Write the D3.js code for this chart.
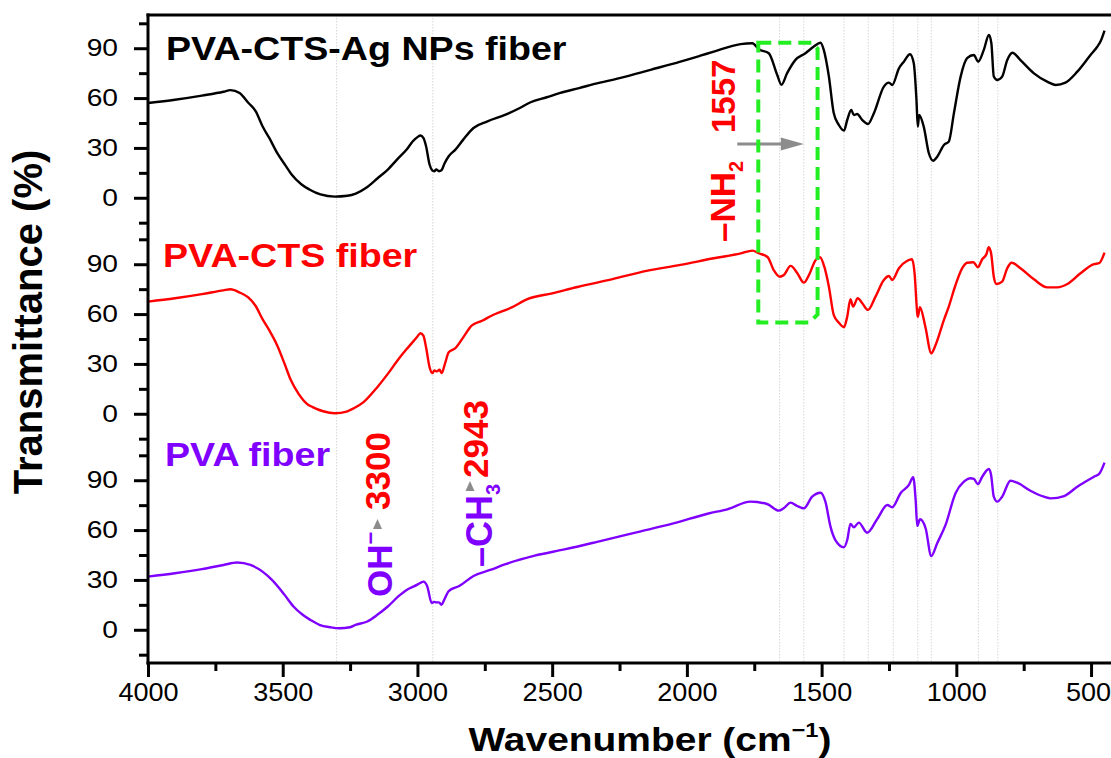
<!DOCTYPE html>
<html>
<head>
<meta charset="utf-8">
<script src="https://cdn.jsdelivr.net/npm/d3@7"></script>
<style>
  body { margin: 0; background: #fff; }
  svg text { font-family: "Liberation Sans", Arial, sans-serif; }
</style>
</head>
<body>
<div id="chart"></div>
<script>
// ---- data (wavenumber cm-1, transmittance %) ----
const agFiber = [
  [4000,57],[3900,59],[3800,61.5],[3720,63.8],[3694,64.8],[3660,63],[3627,57],[3600,52],[3575,43],[3550,36],
  [3519,26.5],[3490,19.5],[3467,14],[3430,8],[3401,5],[3360,2],[3307,0.7],[3260,1.2],[3229,2.5],[3190,6],
  [3149,11.6],[3110,17],[3070,24],[3040,29],[3017,34],[3000,36.5],[2989,37.5],[2978,36],[2968,31],[2955,20],
  [2945,16.5],[2938,16],[2930,17],[2920,16],[2911,16.5],[2900,20.5],[2884,25],[2859,29],[2830,35],[2792,42],
  [2740,46],[2673,50],[2620,54],[2580,57.5],[2520,60.5],[2473,63],[2400,66],[2343,68.5],[2250,72],[2135,77],
  [2024,81.9],[1950,85.5],[1900,88],[1801,92.5],[1757,93],[1733,89.4],[1696,87],[1665,74],[1649,68],[1628,75],
  [1597,83],[1560,87],[1529,91],[1504,93.3],[1492,89],[1473,73],[1455,51],[1436,43.8],[1417,40.4],[1405,46.8],
  [1390,52.8],[1380,49.8],[1368,50.4],[1349,46.8],[1328,44.4],[1306,50.9],[1269,66.9],[1250,69.3],[1238,67.9],
  [1213,77.9],[1195,81.9],[1172,86.4],[1158,81],[1148,59],[1143,42.8],[1138,49.8],[1121,42.8],[1102,26.8],
  [1086,22.3],[1071,24.7],[1046,31.8],[1028,33.8],[1009,50.9],[984,72.9],[960,84],[935,85.9],[919,81.9],
  [898,89],[879,98],[870,93],[861,73],[848,70.9],[830,72.9],[811,82.9],[792,87.3],[762,82.9],[712,74.9],
  [663,69.9],[632,67.9],[595,69.3],[551,75.9],[502,85.9],[477,90.9],[465,94],[450,100.6]
];
const ctsFiber = [
  [4000,67.5],[3900,69.5],[3800,72],[3720,74.3],[3694,74.9],[3660,73],[3628,70],[3601,65],[3575,57],[3549,50],
  [3520,41],[3493,30],[3470,20.3],[3441,12],[3410,6],[3389,4],[3350,1.5],[3307,0.3],[3260,1.5],[3236,3.3],
  [3200,7],[3149,16],[3110,24],[3070,33],[3040,39],[3018,43],[3000,46.5],[2989,48.5],[2978,47],[2968,40],
  [2955,28],[2945,24.5],[2937,26],[2928,25.5],[2918,26.5],[2910,24.5],[2898,30],[2884,37],[2859,39.5],[2830,46],
  [2799,53],[2760,56],[2725,59],[2650,64],[2592,69],[2500,72.5],[2406,76.3],[2276,81],[2150,86],[2024,89.6],
  [1900,93.6],[1800,96.5],[1757,98.2],[1733,96.6],[1700,94.2],[1678,86.5],[1656,82.5],[1640,83.5],[1615,89],
  [1590,84.6],[1566,78.9],[1547,83.5],[1522,92.6],[1506,94.2],[1490,88.5],[1473,76.5],[1455,59.5],[1436,54.8],
  [1417,52.1],[1405,58.4],[1393,68.9],[1383,64.5],[1366,69.5],[1349,66.5],[1328,62.5],[1300,70.5],[1269,80.5],
  [1250,82.9],[1238,80.5],[1213,87.6],[1182,92.1],[1164,93],[1155,84.6],[1145,60.5],[1143,58.4],[1135,64.1],
  [1115,52.4],[1093,36.4],[1077,41.4],[1046,56.5],[1028,64.5],[1003,77.5],[978,87.6],[960,90.9],[937,91.2],
  [920,88.2],[904,93],[888,96.2],[880,100.2],[871,96.6],[861,82.5],[851,78.1],[830,79.5],[811,87.6],[795,90.9],
  [762,87.6],[712,80.9],[663,76.1],[625,76.1],[588,78.1],[539,84.6],[489,90],[470,90.6],[450,97]
];
const pvaFiber = [
  [4000,32],[3900,34],[3800,36.5],[3720,39],[3669,40.5],[3620,39],[3575,35],[3540,30],[3493,21],[3460,14],
  [3426,9],[3397,5.9],[3364,3],[3323,1.5],[3290,0.9],[3250,1.5],[3230,2.9],[3186,5],[3149,9],[3110,14],
  [3070,20.2],[3040,24],[3011,26.3],[2985,28.5],[2978,29],[2964,26.3],[2947,16.1],[2938,16.8],[2931,16.5],
  [2920,16.5],[2911,15.1],[2898,19],[2884,23.3],[2845,26.3],[2792,32.4],[2730,36],[2673,39.5],[2565,44.6],
  [2450,48.5],[2314,53.7],[2183,58.8],[2050,64],[1920,70],[1850,72.5],[1764,77.1],[1702,75.7],[1659,71.7],
  [1641,73.1],[1615,76.5],[1591,74.5],[1566,73.1],[1535,80.1],[1504,82.5],[1486,77.1],[1467,62.1],[1449,54],
  [1417,49.7],[1405,54],[1393,63.7],[1380,61.7],[1362,64.5],[1331,58.4],[1294,66.5],[1256,75.1],[1238,73.7],
  [1207,82.2],[1176,87.2],[1160,91.8],[1151,78.1],[1145,62.5],[1135,66.5],[1114,61.1],[1093,44.4],[1071,52.1],
  [1040,63.1],[1003,82.2],[972,89.1],[947,91.2],[935,90.8],[920,87.6],[904,92.1],[879,96.8],[871,93.2],
  [861,80.1],[848,77.1],[830,80.1],[799,89.7],[774,88.5],[725,83.7],[675,80.1],[650,79.1],[600,80.5],
  [551,86.1],[489,92.1],[470,93.8],[450,100.6]
];
const seriesNames = ["PVA-CTS-Ag NPs fiber", "PVA-CTS fiber", "PVA fiber"];
const seriesColors = ["#000000", "#ff0000", "#7f00ff"];
const xMajor = [4000, 3500, 3000, 2500, 2000, 1500, 1000, 500];
const xMinor = [3750, 3250, 2750, 2250, 1750, 1250, 750];
const yMajor = [0, 30, 60, 90];
const yMinor = [-15, 15, 45, 75, 105];
const guideLines = [3300, 2943, 1656, 1566, 1417, 1327, 1234, 1143, 1093, 918, 846];

// ---- layout ----
const W = 1111, H = 758;
const x0 = 148, top0 = 15, panelH = 216;
const bottomY = top0 + 3 * panelH;

const svg = d3.select("#chart").append("svg")
    .attr("width", W)
    .attr("height", H);

const x = d3.scaleLinear().domain([4000, 400]).range([x0, 1118]);
const yScales = [0, 1, 2].map(i => d3.scaleLinear()
    .domain([-20, 110])
    .range([top0 + (i + 1) * panelH, top0 + i * panelH]));

// faint guide lines at the band positions
svg.append("g").selectAll("line")
    .data(guideLines)
    .join("line")
    .attr("x1", d => x(d)).attr("x2", d => x(d))
    .attr("y1", top0).attr("y2", bottomY)
    .attr("stroke", "#d6d6d6")
    .attr("stroke-width", 1)
    .attr("stroke-dasharray", "1.5,1.5");

// spectra
[agFiber, ctsFiber, pvaFiber].forEach((data, i) => {
    const line = d3.line()
        .x(d => x(d[0]))
        .y(d => yScales[i](d[1]))
        .curve(d3.curveMonotoneX);
    svg.append("path")
        .datum(data)
        .attr("fill", "none")
        .attr("stroke", seriesColors[i])
        .attr("stroke-width", 2.4)
        .attr("stroke-linejoin", "round")
        .attr("d", line);
});

// y axes, one per panel
yScales.forEach(y => {
    const gMaj = svg.append("g").attr("transform", `translate(${x0},0)`)
        .call(d3.axisLeft(y).tickValues(yMajor).tickSize(14));
    gMaj.select(".domain").remove();
    gMaj.selectAll(".tick line").attr("stroke", "#000").attr("stroke-width", 3);
    gMaj.selectAll(".tick text")
        .attr("font-size", 23.5)
        .attr("fill", "#000")
        .attr("x", -30 / 1.2)
        .attr("transform", "scale(1.2,1)");

    const gMin = svg.append("g").attr("transform", `translate(${x0},0)`)
        .call(d3.axisLeft(y).tickValues(yMinor).tickSize(9).tickFormat(""));
    gMin.select(".domain").remove();
    gMin.selectAll(".tick line").attr("stroke", "#000").attr("stroke-width", 3);
});

// x axis
const gx = svg.append("g").attr("transform", `translate(0,${bottomY})`)
    .call(d3.axisBottom(x).tickValues(xMajor).tickSize(14).tickPadding(6).tickFormat(d3.format("d")));
gx.select(".domain").remove();
gx.selectAll(".tick line").attr("stroke", "#000").attr("stroke-width", 3);
gx.selectAll(".tick text")
    .attr("font-size", 26)
    .attr("fill", "#000")
    .attr("x", d => d === 500 ? -3 : 0)   // keep the last label inside the page
    .attr("transform", "scale(1.04,1)");
const gxm = svg.append("g").attr("transform", `translate(0,${bottomY})`)
    .call(d3.axisBottom(x).tickValues(xMinor).tickSize(8).tickFormat(""));
gxm.select(".domain").remove();
gxm.selectAll(".tick line").attr("stroke", "#000").attr("stroke-width", 3);

// frame lines
svg.append("line").attr("x1", x0).attr("x2", x0)
    .attr("y1", top0 - 1.5).attr("y2", bottomY + 1.5)
    .attr("stroke", "#000").attr("stroke-width", 3);
svg.append("line").attr("x1", x0 - 1.5).attr("x2", W)
    .attr("y1", bottomY).attr("y2", bottomY)
    .attr("stroke", "#000").attr("stroke-width", 3);
svg.append("line").attr("x1", x0 - 1.5).attr("x2", W)
    .attr("y1", top0).attr("y2", top0)
    .attr("stroke", "#000").attr("stroke-width", 3);

// series labels
const labelPos = [[166, 60], [163, 267], [165, 466]];
seriesNames.forEach((name, i) => {
    svg.append("g")
        .attr("transform", `translate(${labelPos[i][0]},${labelPos[i][1]}) scale(1.14,1)`)
        .append("text")
        .attr("font-size", 33)
        .attr("font-weight", "bold")
        .attr("fill", seriesColors[i])
        .text(name);
});

// axis titles
const xt = svg.append("g")
    .attr("transform", "translate(650,751) scale(1.18,1)")
    .append("text")
    .attr("text-anchor", "middle")
    .attr("font-size", 33)
    .attr("font-weight", "bold")
    .attr("fill", "#000");
xt.append("tspan").text("Wavenumber (cm");
xt.append("tspan").attr("font-size", 20).attr("dy", -14).text("\u22121");
xt.append("tspan").attr("dy", 14).text(")");

svg.append("text")
    .attr("transform", "translate(42,322) rotate(-90)")
    .attr("text-anchor", "middle")
    .attr("font-size", 40)
    .attr("font-weight", "bold")
    .attr("fill", "#000")
    .text("Transmittance (%)");

// rotated peak annotations
function vText(px, py, size, color) {
    return svg.append("text")
        .attr("transform", `translate(${px},${py}) rotate(-90)`)
        .attr("font-size", size)
        .attr("font-weight", "bold")
        .attr("fill", color);
}
const nh = vText(735, 242, 35, "#ff0000");
nh.append("tspan").text("\u2013NH");
nh.append("tspan").attr("font-size", 20).attr("dy", 8).text("2");
vText(735, 133, 33, "#ff0000").text("1557");

const oh = vText(392, 597, 35, "#7f00ff");
oh.append("tspan").text("OH");
oh.append("tspan").attr("font-size", 22).attr("dy", -14).text("\u2212");
vText(390, 510, 35, "#ff0000").text("3300");

const ch = vText(492, 567, 36, "#7f00ff");
ch.append("tspan").text("\u2013CH");
ch.append("tspan").attr("font-size", 20).attr("dy", 8).text("3");
vText(488, 478, 35, "#ff0000").text("2943");

// small gray pointers
[[377.5, 524], [470, 486]].forEach(([cx, cy]) => {
    svg.append("path")
        .attr("d", `M${cx - 4.5},${cy + 5}L${cx + 4.5},${cy + 5}L${cx},${cy - 5}Z`)
        .attr("fill", "#8c8c8c");
});

// gray arrow toward the NH2 band
const ay = yScales[0](32.3);
const ax1 = x(1813), ax2 = x(1566);
svg.append("line")
    .attr("x1", ax1).attr("x2", ax2 - 20)
    .attr("y1", ay).attr("y2", ay)
    .attr("stroke", "#8c8c8c").attr("stroke-width", 3);
svg.append("path")
    .attr("d", `M${ax2},${ay}L${ax2 - 23},${ay - 6.5}L${ax2 - 23},${ay + 6.5}Z`)
    .attr("fill", "#8c8c8c");

// green dashed highlight box
const bx1 = x(1735), bx2 = x(1515);
const by1 = yScales[0](93.3), by2 = yScales[1](55);
svg.append("path")
    .attr("d", `M${bx1},${by1}H${bx2 - 6}L${bx2},${by1 + 6}V${by2 - 8}L${bx2 - 8},${by2}H${bx1}Z`)
    .attr("fill", "none")
    .attr("stroke", "#22ee22")
    .attr("stroke-width", 4)
    .attr("stroke-dasharray", "13,7");
</script>
</body>
</html>
